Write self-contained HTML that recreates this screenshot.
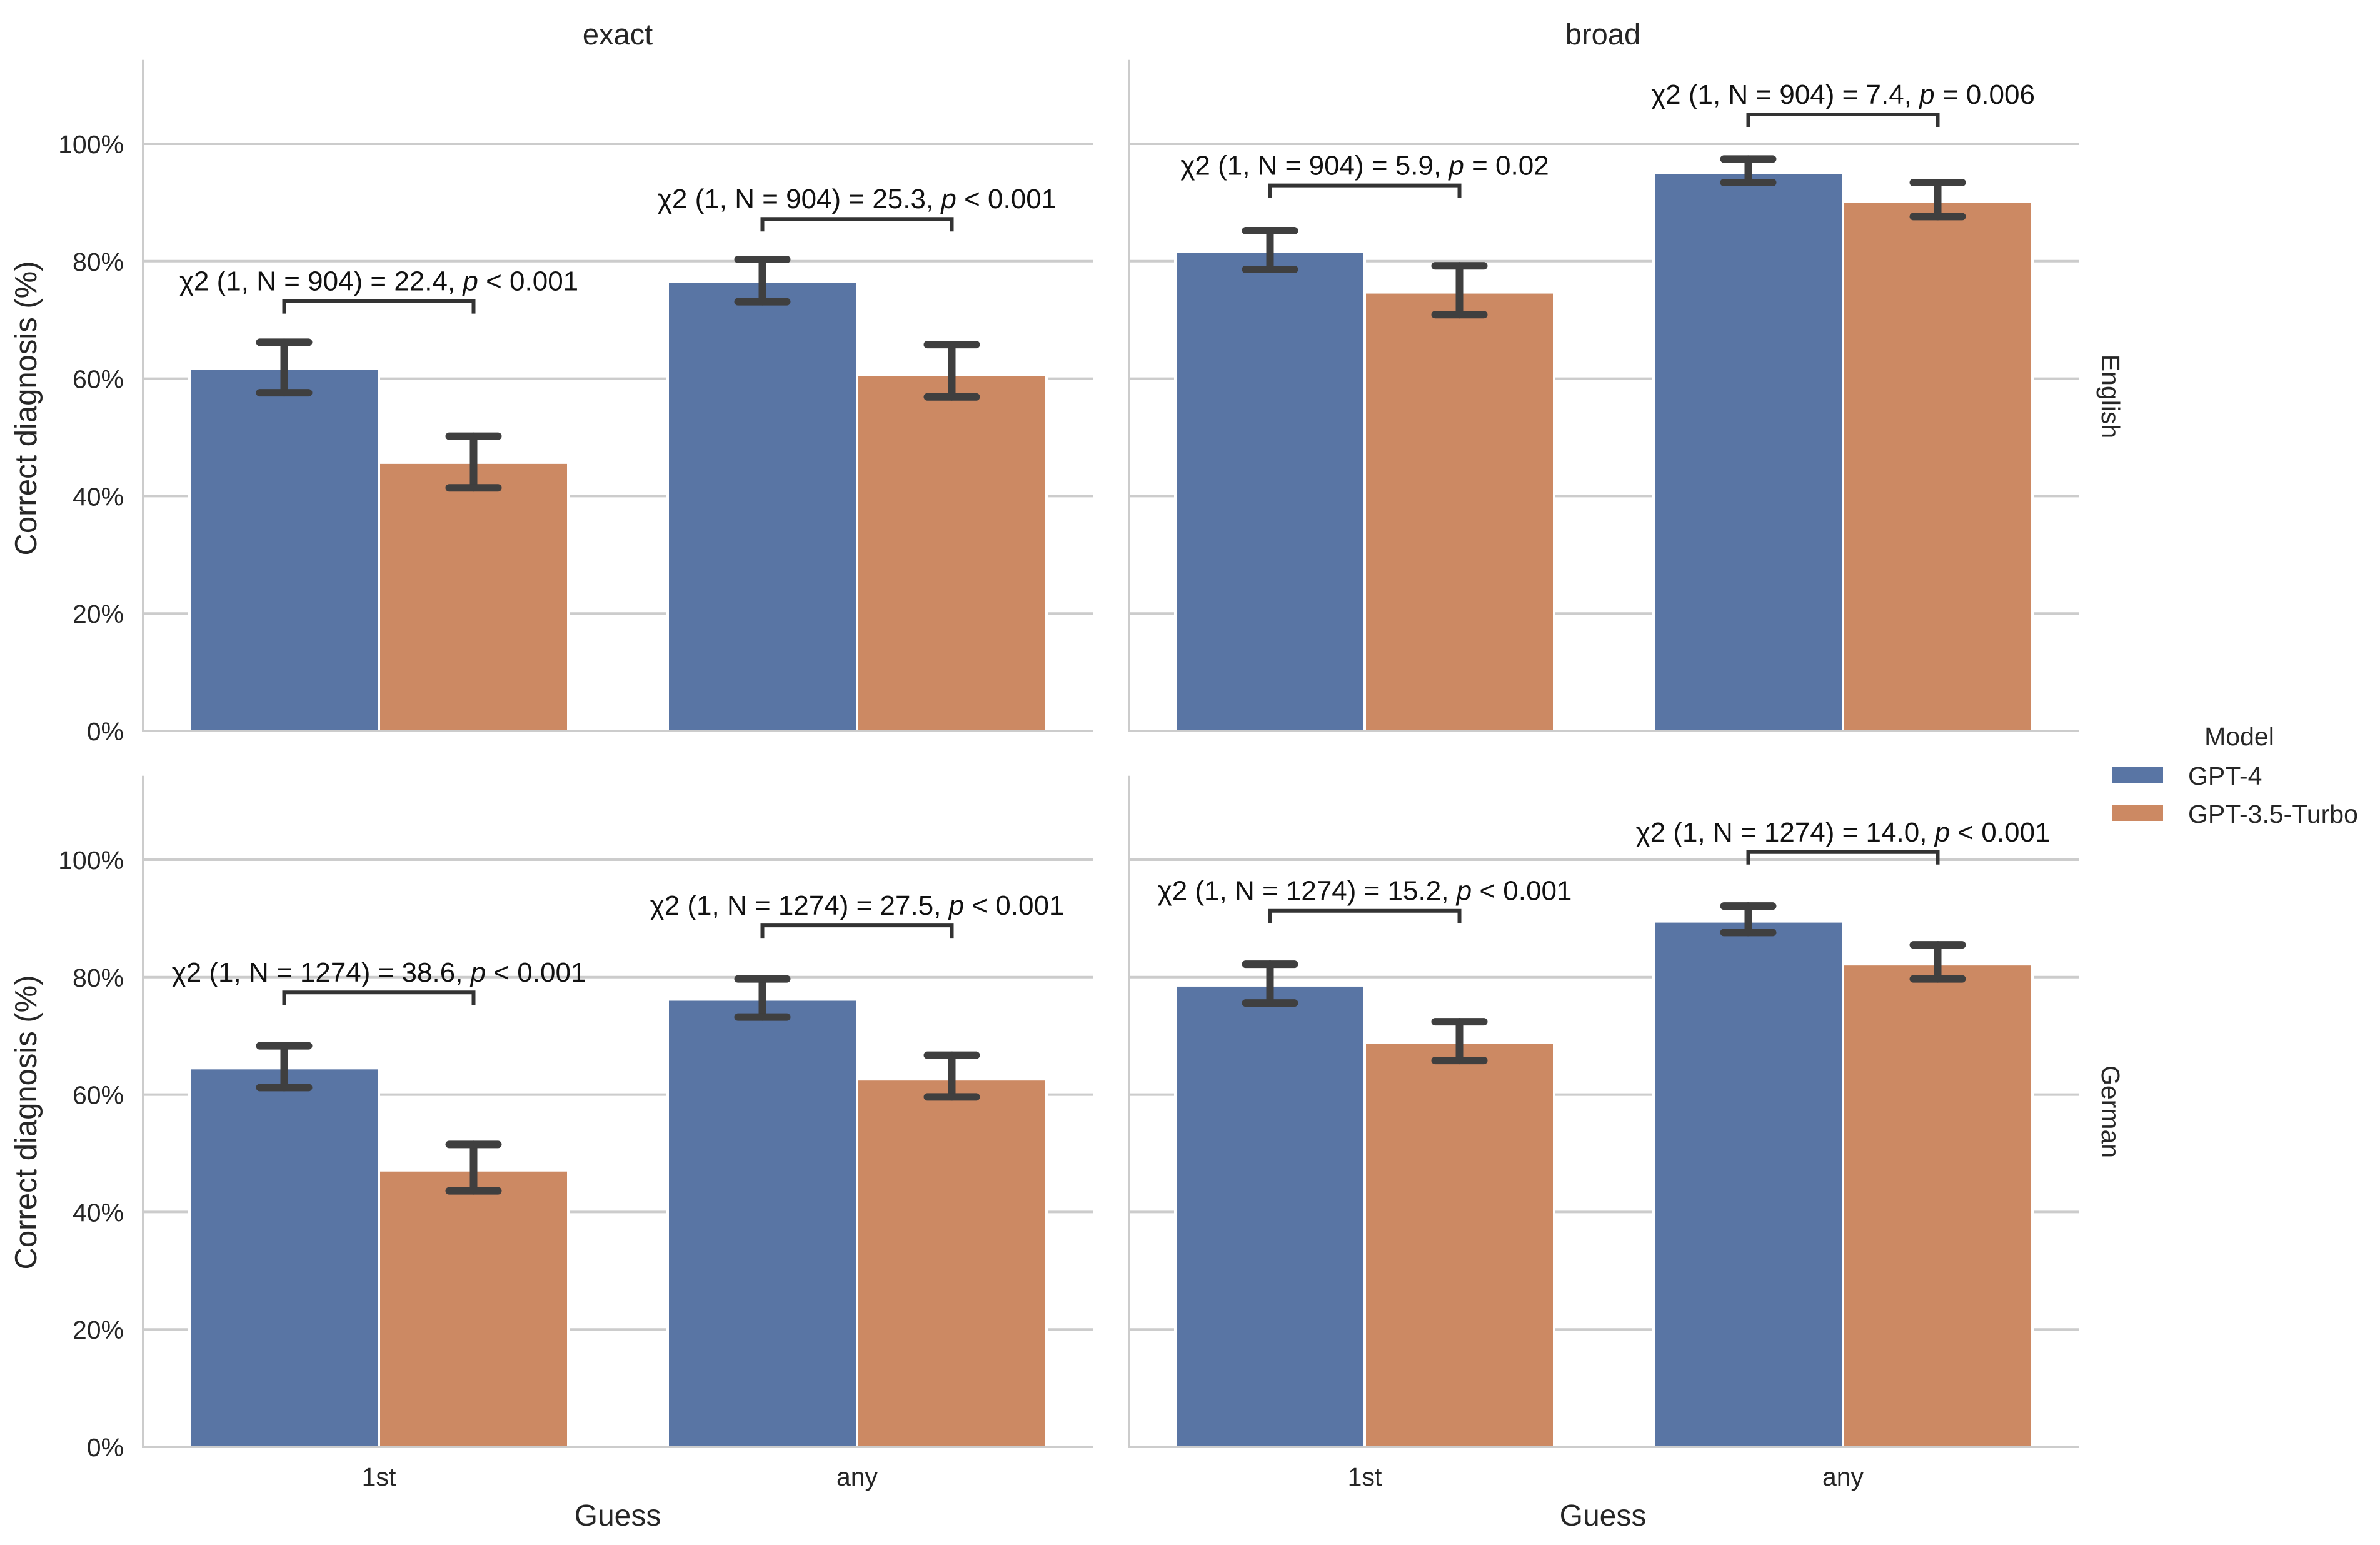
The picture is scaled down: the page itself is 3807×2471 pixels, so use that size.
<!DOCTYPE html>
<html><head><meta charset="utf-8"><style>
html,body{margin:0;padding:0;background:#fff;}
svg{display:block;font-family:"Liberation Sans",Arial,sans-serif;}
</style></head><body>
<svg id="chart" xmlns="http://www.w3.org/2000/svg" width="3807" height="2471" viewBox="0 0 3807 2471">
<rect x="0" y="0" width="3807" height="2471" fill="#fff"/>
</svg>
<script>
// ---- data ----
const categories = ["1st", "any"];
const models = ["GPT-4", "GPT-3.5-Turbo"];
const panelCols = ["exact", "broad"];
const panelRows = ["English", "German"];
// per panel order: [EN-exact, EN-broad, DE-exact, DE-broad], each [1st, any]
const gpt4Values = [[61.7, 76.5], [81.6, 95.1], [64.5, 76.2], [78.6, 89.5]];
const gpt4Low = [[57.6, 73.1], [78.6, 93.4], [61.2, 73.2], [75.6, 87.6]];
const gpt4High = [[66.2, 80.3], [85.2, 97.4], [68.3, 79.7], [82.2, 92.1]];
const gpt35Values = [[45.7, 60.7], [74.7, 90.2], [47.1, 62.6], [68.9, 82.2]];
const gpt35Low = [[41.4, 56.9], [70.9, 87.6], [43.6, 59.6], [65.8, 79.7]];
const gpt35High = [[50.2, 65.8], [79.2, 93.4], [51.5, 66.7], [72.4, 85.5]];
const bracketLevels = [[73.2, 87.2], [92.9, 105.0], [77.4, 88.8], [91.3, 101.3]];
const annotations = [
  [["904", "22.4", "<", "0.001"], ["904", "25.3", "<", "0.001"]],
  [["904", "5.9", "=", "0.02"], ["904", "7.4", "=", "0.006"]],
  [["1274", "38.6", "<", "0.001"], ["1274", "27.5", "<", "0.001"]],
  [["1274", "15.2", "<", "0.001"], ["1274", "14.0", "<", "0.001"]]
];
const yTicks = [0, 20, 40, 60, 80, 100];
const yTickLabels = ["0%", "20%", "40%", "60%", "80%", "100%"];

// ---- layout ----
const NS = "http://www.w3.org/2000/svg";
const svg = document.getElementById("chart");
const colX0 = [229, 1806], rowY0 = [1169, 2314];
const panelW = 1519, pxPerUnit = 9.39, yMax = 114.3;
const groupOffset = [377, 1142], barW = 303;
const colors = ["#5975a4", "#cc8963"];
function mk(tag, attrs, parent) {
  const e = document.createElementNS(NS, tag);
  for (const k in attrs) e.setAttribute(k, attrs[k]);
  (parent || svg).appendChild(e);
  return e;
}
function yScale(p, v) { return rowY0[Math.floor(p / 2)] - v * pxPerUnit; }
function xScale(p, ci) { return colX0[p % 2] + groupOffset[ci]; }

for (let p = 0; p < 4; p++) {
  const col = p % 2, row = Math.floor(p / 2);
  const x0 = colX0[col], y0 = rowY0[row];
  const g = mk("g", {});
  
  
  yTicks.forEach((t, i) => {
    const y = yScale(p, t);
    const l = mk("line", {x1: x0, x2: x0 + panelW, y1: y, y2: y, stroke: "#cccccc", "stroke-width": 4}, g);
    
    
    if (col === 0) {
      const tx = mk("text", {x: 198, y: y + 15, "text-anchor": "end", "font-size": 41, fill: "#262626"}, g);
      tx.textContent = yTickLabels[i];
      
      
    }
  });
  const sl = mk("line", {x1: x0, x2: x0, y1: y0 - yMax * pxPerUnit, y2: y0 + 2, stroke: "#cccccc", "stroke-width": 4}, g);
  
  
  categories.forEach((c, ci) => {
    const cx = xScale(p, ci);
    [[gpt4Values, gpt4Low, gpt4High], [gpt35Values, gpt35Low, gpt35High]].forEach((s, mi) => {
      const v = s[0][p][ci];
      const bx = cx - barW + mi * barW;
      const r = mk("rect", {x: bx, y: yScale(p, v), width: barW, height: v * pxPerUnit, fill: colors[mi], stroke: "#fff", "stroke-width": 4}, g);
      
      
      const ex = bx + barW / 2;
      const eg = mk("g", {stroke: "#3f3f3f", "stroke-width": 12, "stroke-linecap": "round"}, g);
      
      
      const yl = yScale(p, s[1][p][ci]), yh = yScale(p, s[2][p][ci]);
      mk("line", {x1: ex, x2: ex, y1: yl, y2: yh}, eg);
      mk("line", {x1: ex - 39, x2: ex + 39, y1: yl, y2: yl}, eg);
      mk("line", {x1: ex - 39, x2: ex + 39, y1: yh, y2: yh}, eg);
    });
    const bl = cx - barW / 2, br = cx + barW / 2;
    const by = yScale(p, bracketLevels[p][ci]);
    const pth = mk("path", {d: `M${bl},${by + 20} L${bl},${by} L${br},${by} L${br},${by + 20}`, fill: "none", stroke: "#333", "stroke-width": 6}, g);
    
    
    const a = annotations[p][ci];
    const t = mk("text", {x: cx, y: by - 17, "text-anchor": "middle", "font-size": 44, fill: "#111"}, g);
    
    
    t.appendChild(document.createTextNode("χ2 (1, N = " + a[0] + ") = " + a[1] + ", "));
    const ts = mk("tspan", {"font-style": "italic"}, t);
    ts.textContent = "p";
    t.appendChild(document.createTextNode(" " + a[2] + " " + a[3]));
    if (row === 1) {
      const xt = mk("text", {x: cx, y: 2376, "text-anchor": "middle", "font-size": 41, fill: "#262626"}, g);
      xt.textContent = c;
      
      
    }
  });
  const bs = mk("line", {x1: x0, x2: x0 + panelW, y1: y0, y2: y0, stroke: "#cccccc", "stroke-width": 4}, g);
  
  
}
[["exact", 988], ["broad", 2564]].forEach(([s, x]) => {
  const t = mk("text", {x: x, y: 71, "text-anchor": "middle", "font-size": 47, fill: "#262626"});
  t.textContent = s;
  
  
  const gx = mk("text", {x: x, y: 2440, "text-anchor": "middle", "font-size": 48, fill: "#262626"});
  gx.textContent = "Guess";
  
  
});
[[634, "English"], [1778, "German"]].forEach(([y, s]) => {
  const t = mk("text", {x: 0, y: 0, "text-anchor": "middle", "font-size": 41, fill: "#262626", transform: `translate(3362,${y}) rotate(90)`});
  t.textContent = s;
  
  
});
[653, 1795].forEach(y => {
  const t = mk("text", {x: 0, y: 0, "text-anchor": "middle", "font-size": 49, fill: "#262626", transform: `translate(58,${y}) rotate(-90)`});
  t.textContent = "Correct diagnosis (%)";
  
  
});
const lg = mk("g", {});


const lt = mk("text", {x: 3582, y: 1192, "text-anchor": "middle", "font-size": 41, fill: "#262626"}, lg);
lt.textContent = "Model";


models.forEach((m, i) => {
  const y = 1227 + i * 61;
  const r = mk("rect", {x: 3378, y: y, width: 82, height: 25, fill: colors[i]}, lg);
  
  
  const t = mk("text", {x: 3500, y: y + 28, "font-size": 41, fill: "#262626"}, lg);
  t.textContent = m;
  
  
});
</script>
</body></html>
